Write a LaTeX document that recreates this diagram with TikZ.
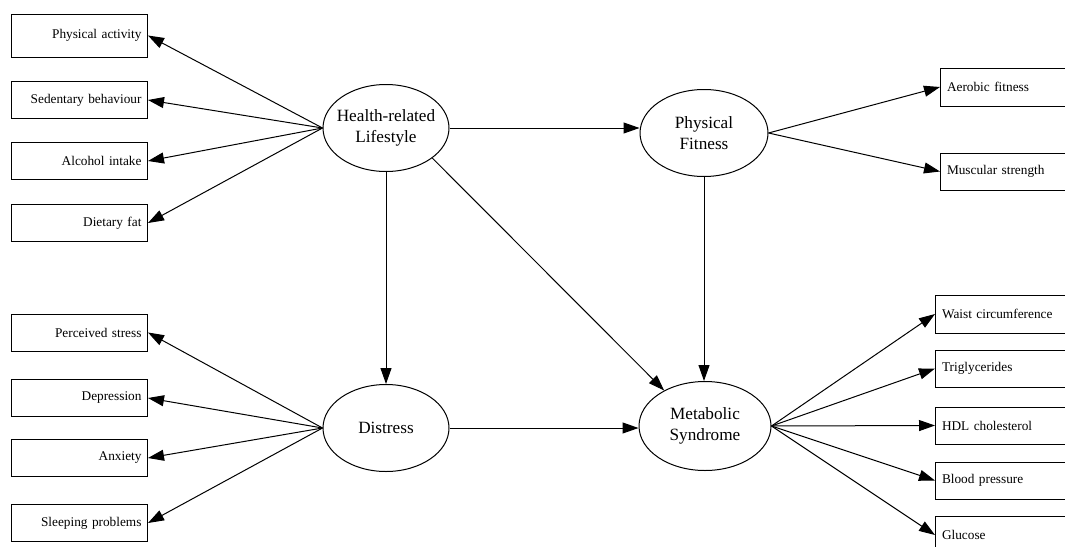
\documentclass[tikz,border=0pt]{standalone}
\usepackage{fontspec}
\setmainfont{Liberation Serif}
\usetikzlibrary{shapes.geometric,arrows.meta}
\newcommand{\zw}[1]{\makebox[0pt]{#1}}
\begin{document}
\begin{tikzpicture}[x=1pt,y=-1pt,
  lbox/.style={draw,line width=1pt,rectangle,minimum height=37pt,text width=124pt,inner xsep=6pt,inner ysep=0pt,align=right,anchor=east,font=\fontsize{13.3}{15}\selectfont},
  rbox/.style={draw,line width=1pt,rectangle,minimum height=37pt,text width=124pt,inner xsep=6.5pt,inner ysep=0pt,align=left,anchor=west,font=\fontsize{13.3}{15}\selectfont},
  lat/.style={draw,line width=1pt,ellipse,inner sep=0pt,align=center,font=\fontsize{17.2}{21}\selectfont},
  arr/.style={line width=1pt,-{Triangle[length=16pt,width=11pt]}}]
\useasboundingbox (0,0) rectangle (1065,546);
\clip (0,0) rectangle (1065,546);
% latent variables
\node[lat,minimum width=126pt,minimum height=87pt] (hl) at (386,128) {\zw{Health-related}\\\zw{Lifestyle}};
\node[lat,minimum width=128pt,minimum height=87pt] (pf) at (704,133) {\zw{Physical}\\\zw{Fitness}};
\node[lat,minimum width=126pt,minimum height=87pt] (di) at (386,428) {\zw{Distress}};
\node[lat,minimum width=132pt,minimum height=89pt] (ms) at (705,426) {\zw{Metabolic}\\\zw{Syndrome}};
% left boxes
\node[lbox,minimum height=43pt] (pa) at (148,35.5) {Physical activity};
\node[lbox] (sb) at (148,100) {Sedentary behaviour};
\node[lbox] (ai) at (148,161) {Alcohol intake};
\node[lbox] (df) at (148,223) {Dietary fat};
\node[lbox] (ps) at (148,332.5) {Perceived stress};
\node[lbox] (de) at (148,398) {Depression};
\node[lbox] (an) at (148,458) {Anxiety};
\node[lbox] (sp) at (148,523) {Sleeping problems};
% right boxes
\node[rbox,minimum height=38pt] (af) at (940,87) {Aerobic fitness};
\node[rbox] (mu) at (940,171.5) {Muscular strength};
\node[rbox,minimum height=38pt] (wc) at (935,314) {Waist circumference};
\node[rbox] (tg) at (935,368.5) {Triglycerides};
\node[rbox] (hd) at (935,425.5) {HDL cholesterol};
\node[rbox] (bp) at (935,480.5) {Blood pressure};
\node[rbox] (gl) at (935,535) {Glucose};
% connectors
\foreach \t in {pa,sb,ai,df} \draw[arr] (hl.west) -- (\t.east);
\foreach \t in {ps,de,an,sp} \draw[arr] (di.west) -- (\t.east);
\foreach \t in {af,mu} \draw[arr] (pf.east) -- (\t.west);
\foreach \t in {wc,tg,hd,bp,gl} \draw[arr] (ms.east) -- (\t.west);
\draw[arr] (hl.east) -- (hl.east -| pf.west);
\draw[arr] (hl.south) -- (di.north);
\draw[arr] (hl.-33) -- (ms.139);
\draw[arr] (pf.south) -- (pf.south |- ms.north);
\draw[arr] (di.east) -- (di.east -| ms.west);
\end{tikzpicture}
\end{document}
